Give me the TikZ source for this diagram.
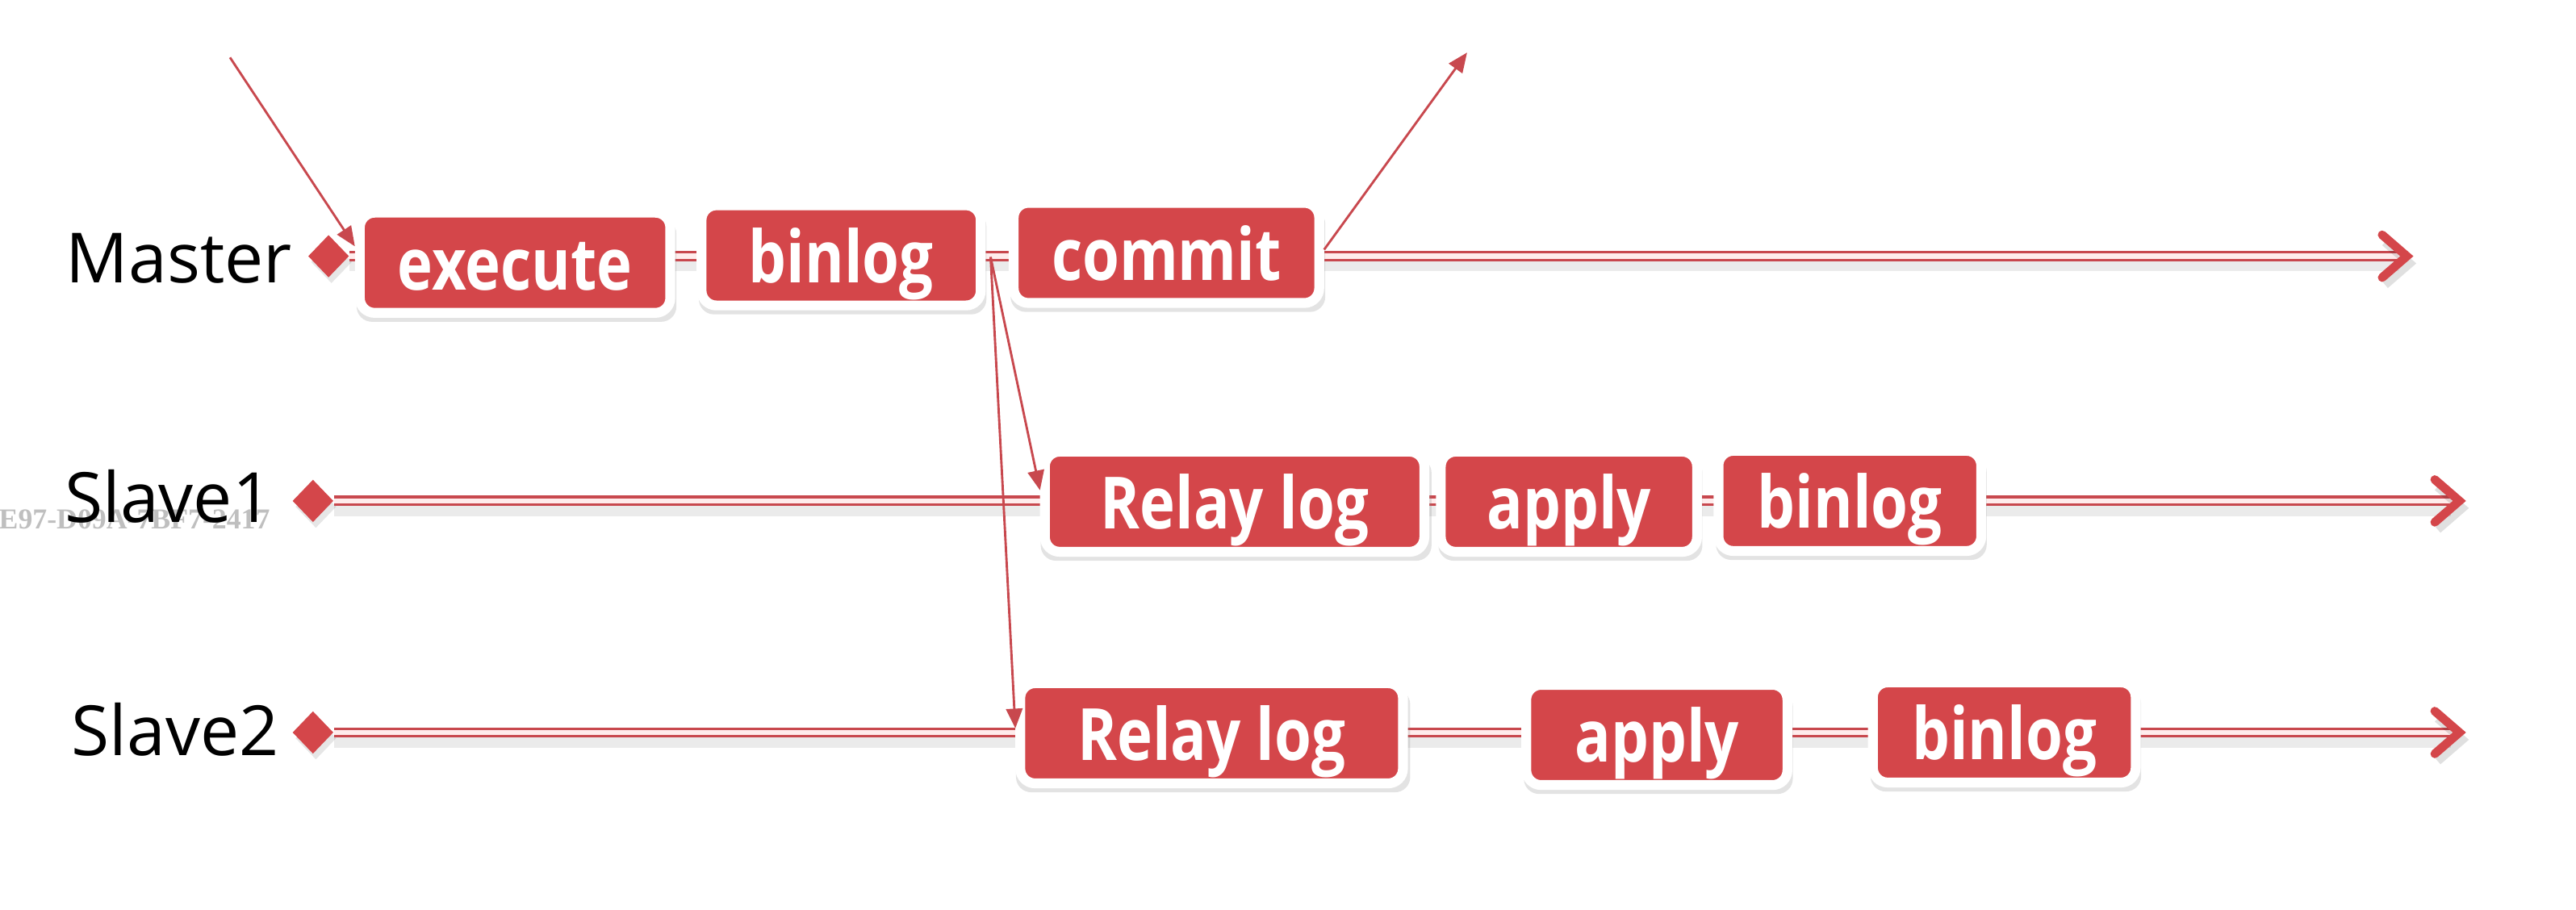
\documentclass[tikz,border=0pt]{standalone}
\usepackage{fontspec}
\setmainfont{Open Sans}
\newfontfamily\stagefont{Open Sans}[FakeStretch=0.83]
\newfontfamily\wmfont{Liberation Serif}
\usetikzlibrary{shapes.geometric,arrows.meta,shadows}

\definecolor{boxred}{RGB}{212,70,74}
\definecolor{linered}{RGB}{200,72,78}
\definecolor{pinkcore}{RGB}{255,236,236}

\tikzset{
  lane/.style={draw=linered, line width=0.9pt, double=pinkcore, double distance=1.8pt,
    preaction={draw=black, opacity=0.08, line width=4.5pt, transform canvas={yshift=-3pt}}},
  chev/.style={draw=boxred, line width=3pt, line cap=round, line join=miter,
    preaction={draw=black, opacity=0.12, line width=3pt, transform canvas={xshift=1pt,yshift=-2.5pt}}},
  startdot/.style={diamond, fill=boxred, minimum width=0.5cm, minimum height=0.52cm, inner sep=0pt,
    drop shadow={shadow xshift=1pt, shadow yshift=-2pt, opacity=0.2}},
  stage/.style={rectangle, rounded corners=0.18cm, fill=boxred, draw=white, line width=0.12cm,
    minimum height=1.22cm, inner sep=0pt, text=white, font=\stagefont\bfseries\fontsize{25}{25}\selectfont,
    text height=18.8pt, text depth=0pt,
    drop shadow={shadow xshift=0.5pt, shadow yshift=-2.5pt, shadow scale=1.03, opacity=0.22}},
  lbl/.style={font=\fontsize{24}{24}\selectfont, inner sep=0pt, anchor=base east},
  wm/.style={font=\wmfont\bfseries\fontsize{10}{10}\selectfont, text=black!25, inner sep=0pt, anchor=base west},
  link/.style={draw=linered, line width=0.8pt, -{Triangle[length=0.24cm, width=0.2cm]}}
}

\begin{document}
\begin{tikzpicture}[x=0.02cm, y=-0.02cm]
  \useasboundingbox (0,0) rectangle (1568,554);

  \node[wm] (mark) at (-1,322) {E97-D09A-7BF7-2417};

  % Lane labels
  \node[lbl] (master) at (178,172) {Master};
  \node[lbl] (slave1) at (166,318) {Slave1};
  \node[lbl] (slave2) at (170,460) {Slave2};

  % Lanes
  \node[startdot] (mdot) at (200,156) {};
  \node[startdot] (s1dot) at (190.5,305) {};
  \node[startdot] (s2dot) at (190.5,446) {};
  \coordinate (mend) at (1465,156);
  \coordinate (s1end) at (1497,305);
  \coordinate (s2end) at (1497,446);
  \draw[lane] (mdot.east) -- ([xshift=-3pt]mend);
  \draw[lane] (s1dot.east) -- ([xshift=-3pt]s1end);
  \draw[lane] (s2dot.east) -- ([xshift=-3pt]s2end);
  \draw[chev] (mend) ++(-15,-13) -- (mend) -- ++(-15,13);
  \draw[chev] (s1end) ++(-15,-13) -- (s1end) -- ++(-15,13);
  \draw[chev] (s2end) ++(-15,-13) -- (s2end) -- ++(-15,13);

  % Master
  \node[stage, minimum width=3.78cm] (mexec) at (313.5,160) {execute};
  \node[stage, minimum width=3.4cm] (mbin) at (512,155.5) {binlog};
  \node[stage, minimum width=3.72cm] (mcommit) at (710,154) {commit};
  % First slave
  \node[stage, minimum width=4.62cm] (relay1) at (751.5,305.5) {Relay log};
  \node[stage, minimum width=3.12cm] (apply1) at (955,305.5) {apply};
  \node[stage, minimum width=3.2cm] (bin1) at (1126,305) {binlog};
  % Second slave
  \node[stage, minimum width=4.66cm] (relay2) at (737.5,446.5) {Relay log};
  \node[stage, minimum width=3.18cm] (apply2) at (1008.5,447.5) {apply};
  \node[stage, minimum width=3.2cm] (bin2) at (1220,446) {binlog};

  % Transaction in and out
  \coordinate (txin) at (140,35);
  \coordinate (txout) at (893,32);
  \draw[link] (txin) -- ([yshift=0.2cm]mexec.west);
  \draw[link] ([yshift=0.04cm]mcommit.east) -- (txout);

  % Shipping the binlog
  \coordinate (fork) at ([xshift=0.06cm,yshift=-0.02cm]mbin.east);
  \draw[link] (fork) -- ([yshift=0.14cm]relay1.west);
  \draw[link] (fork) -- ([yshift=0.06cm]relay2.west);
\end{tikzpicture}
\end{document}
